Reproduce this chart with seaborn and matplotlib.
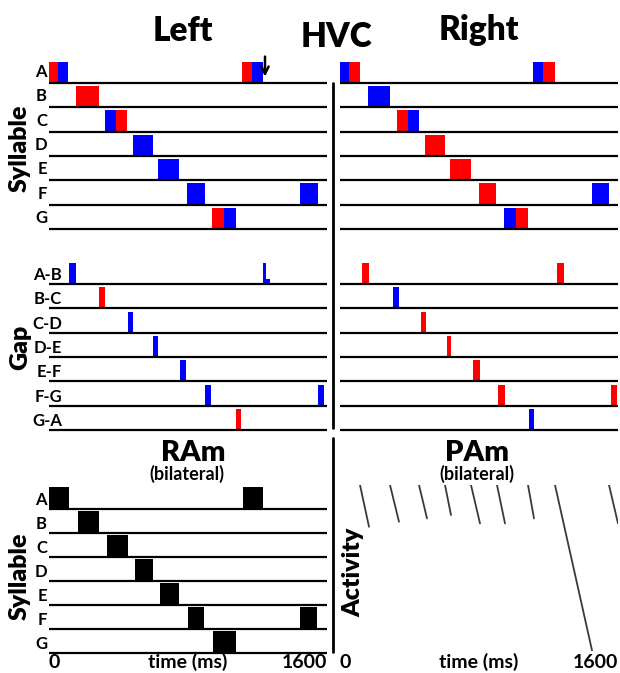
import numpy as np
import pandas as pd
import matplotlib.pyplot as plt
import seaborn as sns
from matplotlib.lines import Line2D

# Syllable / gap rows
rows = ['A', 'B', 'C', 'D', 'E', 'F', 'G']
gaps = ['A-B', 'B-C', 'C-D', 'D-E', 'E-F', 'F-G', 'G-A']

# HVC activity bursts: (row, start ms, end ms, colour class)
hvc_left_syl = [
    ('A', 0, 54, 'red'), ('A', 54, 114, 'blue'), ('A', 1158, 1218, 'red'), ('A', 1218, 1284, 'blue'),
    ('B', 162, 300, 'red'),
    ('C', 336, 402, 'blue'), ('C', 402, 468, 'red'),
    ('D', 504, 624, 'blue'),
    ('E', 654, 780, 'blue'),
    ('F', 828, 936, 'blue'), ('F', 1506, 1614, 'blue'),
    ('G', 978, 1050, 'red'), ('G', 1050, 1122, 'blue'),
]
hvc_right_syl = [
    ('A', 0, 54, 'blue'), ('A', 54, 120, 'red'), ('A', 1158, 1218, 'blue'), ('A', 1218, 1290, 'red'),
    ('B', 168, 300, 'blue'),
    ('C', 342, 408, 'red'), ('C', 408, 474, 'blue'),
    ('D', 510, 630, 'red'),
    ('E', 660, 786, 'red'),
    ('F', 834, 936, 'red'), ('F', 1512, 1614, 'blue'),
    ('G', 984, 1056, 'blue'), ('G', 1056, 1128, 'red'),
]
# gap bursts: (gap, start, end, colour class, relative height)
hvc_left_gap = [
    ('A-B', 120, 162, 'blue', 1.0), ('A-B', 1284, 1300, 'blue', 1.0), ('A-B', 1300, 1326, 'blue', 0.25),
    ('B-C', 300, 336, 'red', 1.0),
    ('C-D', 474, 504, 'blue', 1.0),
    ('D-E', 624, 654, 'blue', 1.0),
    ('E-F', 786, 822, 'blue', 1.0),
    ('F-G', 936, 972, 'blue', 1.0), ('F-G', 1614, 1650, 'blue', 1.0),
    ('G-A', 1122, 1152, 'red', 1.0),
]
hvc_right_gap = [
    ('A-B', 132, 174, 'red', 1.0), ('A-B', 1302, 1344, 'red', 1.0),
    ('B-C', 318, 354, 'blue', 1.0),
    ('C-D', 486, 516, 'red', 1.0),
    ('D-E', 642, 666, 'red', 1.0),
    ('E-F', 798, 840, 'red', 1.0),
    ('F-G', 948, 990, 'red', 1.0), ('F-G', 1626, 1662, 'red', 1.0),
    ('G-A', 1134, 1164, 'blue', 1.0),
]
ram_syl = [
    ('A', 0, 120, 'black'), ('A', 1164, 1284, 'black'),
    ('B', 174, 300, 'black'),
    ('C', 348, 474, 'black'),
    ('D', 516, 624, 'black'),
    ('E', 666, 780, 'black'),
    ('F', 834, 930, 'black'), ('F', 1506, 1608, 'black'),
    ('G', 984, 1122, 'black'),
]
# PAm activity ramps: start ms, end ms, end level (start level = 1)
pam_t0 = [120, 300, 474, 630, 786, 942, 1128, 1290, 1614]
pam_t1 = [174, 354, 522, 666, 840, 990, 1164, 1512, 1668]
pam_v1 = [0.75, 0.78, 0.80, 0.82, 0.77, 0.77, 0.80, 0.01, 0.77]
arrow_t = 1296

palette = {'red': '#ff0000', 'blue': '#0000ff', 'black': '#000000'}
TMAX = 1668

sns.set_theme(style='white')
plt.rcParams['font.family'] = ['Lato', 'DejaVu Sans']
plt.rcParams['font.weight'] = 'bold'

W, H = 620, 673
fig = plt.figure(figsize=(W / 100, H / 100), dpi=100)


def row_axes(x0, x1, base_top, base_bot):
    step = (base_bot - base_top) / 6
    top = base_bot - 7 * step
    bot = base_bot + 0.25 * step
    ax = fig.add_axes([x0 / W, 1 - bot / H, (x1 - x0) / W, (bot - top) / H])
    ax.set_xlim(0, TMAX)
    ax.set_ylim(-0.25, 7)
    ax.axis('off')
    return ax


def draw_rows(ax, segs, labels, height):
    for seg in segs:
        lab, t0, t1, kind = seg[:4]
        h = height * (seg[4] if len(seg) > 4 else 1.0)
        y = 6 - labels.index(lab)
        ax.bar(t0, h, width=t1 - t0, bottom=y, align='edge',
               color=palette[kind], linewidth=0, clip_on=False)
    ax.hlines(np.arange(7), 0, TMAX, color='black', lw=1.6, zorder=3)


def ptext(x, y, s, size, ha='center', va='baseline', rot=0, weight='bold'):
    fig.text(x / W, 1 - y / H, s, fontsize=size, ha=ha, va=va,
             rotation=rot, fontweight=weight, color='black')


# HVC syllables
ax_ls = row_axes(49, 327, 83, 229)
draw_rows(ax_ls, hvc_left_syl, rows, 0.87)
ax_ls.annotate('', xy=(arrow_t, 6.15), xytext=(arrow_t, 7.2),
               arrowprops=dict(arrowstyle='->', lw=1.8, color='black', mutation_scale=13),
               annotation_clip=False)
ax_rs = row_axes(340, 618, 83, 229)
draw_rows(ax_rs, hvc_right_syl, rows, 0.87)

# HVC gaps
ax_lg = row_axes(49, 327, 284, 430)
draw_rows(ax_lg, hvc_left_gap, gaps, 0.86)
ax_rg = row_axes(340, 618, 284, 430)
draw_rows(ax_rg, hvc_right_gap, gaps, 0.86)

# RAm
ax_ram = row_axes(49, 327, 509, 653)
draw_rows(ax_ram, ram_syl, rows, 0.92)

# PAm
ax_pam = fig.add_axes([340 / W, 1 - 652 / H, 278 / W, (652 - 485) / H])
ax_pam.set_xlim(0, TMAX)
ax_pam.set_ylim(0, 1)
ax_pam.axis('off')
pam = pd.DataFrame({
    'line': np.repeat(np.arange(len(pam_t0)), 2),
    't': np.ravel(np.column_stack([pam_t0, pam_t1])),
    'v': np.ravel(np.column_stack([np.ones(len(pam_v1)), pam_v1])),
})
sns.lineplot(data=pam, x='t', y='v', units='line', estimator=None,
             color='#3a3a3a', lw=1.3, ax=ax_pam, legend=False)

# dividers
fig.add_artist(Line2D([333 / W, 333 / W], [1 - 83 / H, 1 - 428 / H], color='black', lw=2))
fig.add_artist(Line2D([333 / W, 333 / W], [1 - 438 / H, 1 - 652 / H], color='black', lw=2))

# titles
ptext(183, 41, 'Left', 24, weight='heavy')
ptext(336, 47, 'HVC', 24, weight='heavy')
ptext(479, 40, 'Right', 24, weight='heavy')
ptext(193, 461, 'RAm', 21, weight='heavy')
ptext(187, 480, '(bilateral)', 13)
ptext(477, 461, 'PAm', 21, weight='heavy')
ptext(477, 480, '(bilateral)', 13)

# side labels
ptext(20, 148, 'Syllable', 18, va='center', rot=90, weight='heavy')
ptext(20, 347, 'Gap', 18, va='center', rot=90, weight='heavy')
ptext(20, 576, 'Syllable', 18, va='center', rot=90, weight='heavy')
ptext(353, 572, 'Activity', 18, va='center', rot=90, weight='heavy')

# row labels
for i, r in enumerate(rows):
    ptext(47, 83 + i * 24.33 - 6, r, 12, ha='right')
    ptext(47, 509 + i * 24 - 4, r, 12, ha='right')
for i, g in enumerate(gaps):
    ptext(62, 284 + i * 24.33 - 4, g, 12, ha='right')

# time axes
for x0, x1 in [(49, 327), (340, 618)]:
    ptext(x0, 668, '0', 14, ha='left')
    ptext((x0 + x1) / 2, 668, 'time (ms)', 14)
    ptext(x1, 668, '1600', 14, ha='right')

fig.savefig('out.png', dpi=100)
